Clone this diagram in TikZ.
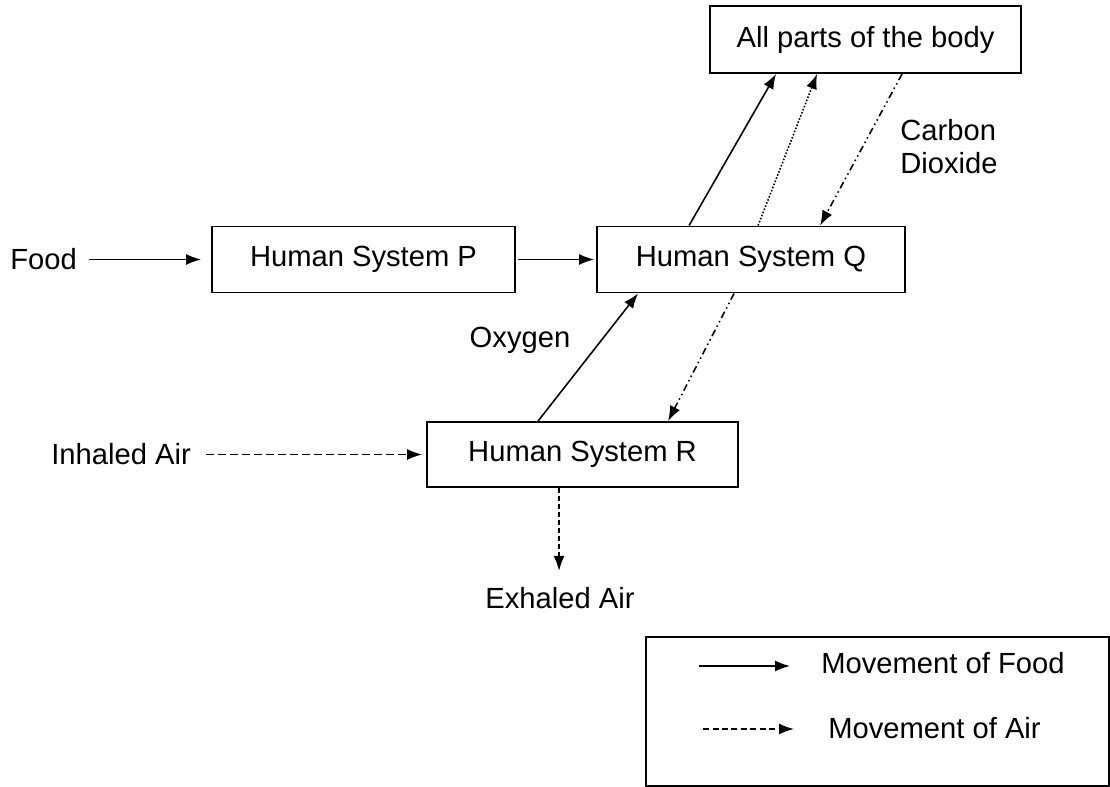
\documentclass[tikz,border=0pt]{standalone}
\usepackage{fontspec}
\setmainfont{Liberation Sans}
\usetikzlibrary{arrows.meta, calc}

\begin{document}
\begin{tikzpicture}[
    x=0.02cm, y=-0.02cm,
    font=\fontsize{16.6}{19}\selectfont,
    sysbox/.style={
      rectangle, draw, line width=1.1pt, minimum height=1.32cm, align=center
    },
    lbl/.style={inner sep=0pt, align=left},
    tip/.style={-{Latex[length=0.3cm, width=0.22cm]}},
    food/.style={tip, line width=0.9pt},
    air/.style={tip, line width=0.9pt, dash pattern=on 0.15cm off 0.09cm},
    oxy/.style={tip, line width=0.9pt, densely dotted},
    co2/.style={tip, line width=0.9pt,
      dash pattern=on 0.14cm off 0.07cm on 0.03cm off 0.07cm on 0.03cm off 0.07cm},
  ]
  \useasboundingbox (0,0) rectangle (1110,787);

  % the four systems
  \node[sysbox, minimum width=6.22cm, minimum height=1.34cm] (body) at (865.5,39.5) {All parts of the body};
  \node[sysbox, minimum width=6.06cm] (P) at (363.5,259.5) {Human System P};
  \node[sysbox, minimum width=6.16cm] (Q) at (751,259.5) {Human System Q};
  \node[sysbox, minimum width=6.22cm, minimum height=1.30cm] (R) at (582.5,454.5) {Human System R};

  % inputs and outputs
  \node[lbl, anchor=west] (food) at (10,259.5) {Food};
  \node[lbl, anchor=west] (inhaled) at (51,454.5) {Inhaled Air};
  \node[lbl] (exhaled) at (560,598) {Exhaled Air};
  \node[lbl] (oxygen) at (520,340) {Oxygen};
  \node[lbl, anchor=west] (carbon) at (900,146.5) {Carbon\\Dioxide};
  \coordinate (rout) at ($(R.south west)+(133,0)$);

  % food route
  \draw[food, shorten <=0.24cm, shorten >=0.2cm] (food.east) -- (P.west);
  \draw[food, shorten <=0.04cm, shorten >=0.04cm] (P.east) -- (Q.west);
  \draw[food] ($(Q.north west)+(93,0)$) -- ($(body.south west)+(67,0)$);

  % air route
  \draw[air, shorten <=0.3cm, shorten >=0.08cm] (inhaled.east) -- (R.west);
  \draw[oxy] ($(Q.north west)+(162,0)$) -- ($(body.south west)+(108,0)$);
  \draw[food] ($(R.north west)+(112,0)$) -- ($(Q.south west)+(42,0)$);
  \draw[co2] ($(body.south west)+(193,0)$) -- ($(Q.north west)+(224,0)$);
  \draw[co2] ($(Q.south west)+(138,0)$) -- ($(R.north west)+(242,0)$);
  \draw[air, dash pattern=on 0.1cm off 0.06cm, shorten >=0.32cm] (rout) -- (rout |- exhaled.north);

  % key
  \node[draw, line width=1.1pt, minimum width=9.26cm, minimum height=2.98cm] (legend) at (877.5,711.5) {};
  \node[lbl, anchor=west] (lfood) at (821,663) {Movement of Food};
  \node[lbl, anchor=west] (lair) at (828,728) {Movement of Air};
  \coordinate (kf1) at (699,666);
  \coordinate (kf2) at (790,666);
  \coordinate (ka1) at (703,729);
  \coordinate (ka2) at (794,729);
  \draw[food] (kf1) -- (kf2);
  \draw[air, dash pattern=on 0.12cm off 0.07cm] (ka1) -- (ka2);
\end{tikzpicture}
\end{document}
